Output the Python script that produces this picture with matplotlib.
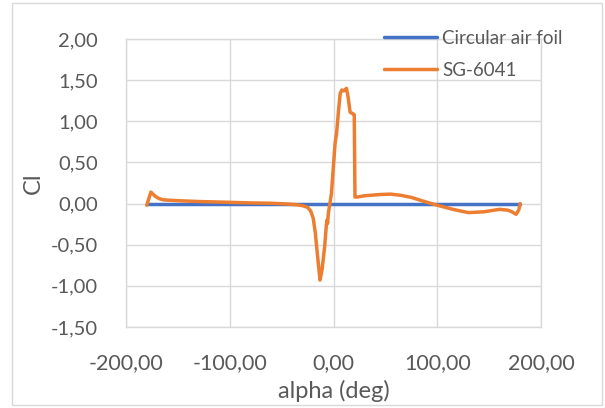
import matplotlib
matplotlib.use("Agg")
import matplotlib.pyplot as plt
from matplotlib.patches import Rectangle
from matplotlib.ticker import FuncFormatter, MultipleLocator

plt.rcParams["font.family"] = ["Lato", "DejaVu Sans"]

# data
circ_alpha = [-180, 180]
circ_cl = [0.0, 0.0]

sg_alpha = [-180, -176, -172, -168, -164, -150, -130, -100, -80, -60, -45, -35,
            -30, -25, -22, -19.5, -17.5, -15.5, -13, -11, -8.5, -7, -6.3, -5.7,
            -5, -2, 1.5, 3, 5, 6.5, 8, 10, 12.5, 14, 16, 19, 20, 20.7, 23, 30,
            45, 55, 65, 75, 85, 100, 115, 130, 145, 160, 168, 172, 176, 178.5, 180]
sg_cl = [-0.02, 0.14, 0.09, 0.06, 0.045, 0.035, 0.025, 0.015, 0.008, 0.004, -0.005, -0.015,
         -0.025, -0.045, -0.09, -0.18, -0.36, -0.62, -0.93, -0.80, -0.52, -0.28, -0.20, -0.24,
         -0.12, 0.12, 0.73, 0.86, 1.15, 1.34, 1.38, 1.37, 1.40, 1.30, 1.11, 1.09, 1.08, 0.08, 0.08, 0.095,
         0.11, 0.115, 0.10, 0.075, 0.035, -0.02, -0.07, -0.11, -0.10, -0.07, -0.08, -0.10, -0.13, -0.08, 0.0]

W, H = 605, 408
fig = plt.figure(figsize=(W / 100, H / 100), dpi=100)

# chart area border
fig.add_artist(Rectangle((12 / W, 3 / H), 590 / W, 402 / H, transform=fig.transFigure,
                         fill=False, edgecolor="#D9D9D9", linewidth=1))

ax = fig.add_axes([126 / W, (H - 327) / H, 415 / W, 288 / H])

grid_c = "#D9D9D9"
text_c = "#595959"

ax.plot(circ_alpha, circ_cl, color="#4472C4", linewidth=2.5, label="Circular air foil",
        solid_capstyle="round", zorder=3)
ax.plot(sg_alpha, sg_cl, color="#ED7D31", linewidth=2.5, label="SG-6041",
        solid_capstyle="round", solid_joinstyle="round", zorder=4)

ax.set_xlim(-200, 200)
ax.set_ylim(-1.5, 2.0)
ax.xaxis.set_major_locator(MultipleLocator(100))
ax.yaxis.set_major_locator(MultipleLocator(0.5))
fmt = FuncFormatter(lambda v, p: f"{v:.2f}".replace(".", ","))
ax.xaxis.set_major_formatter(fmt)
ax.yaxis.set_major_formatter(fmt)

ax.grid(True, color=grid_c, linewidth=1)
ax.set_axisbelow(True)
for s in ax.spines.values():
    s.set_color(grid_c)
    s.set_linewidth(1)
ax.tick_params(length=0, colors=text_c)
ax.tick_params(axis="y", pad=20, labelsize=14.5)
ax.tick_params(axis="x", pad=19, labelsize=15.5)

ax.set_xlabel("alpha (deg)", fontsize=17, color=text_c, labelpad=5)
ax.set_ylabel("Cl", fontsize=17, color=text_c, labelpad=5)

leg = ax.legend(loc="upper left", bbox_to_anchor=(384 / W, 1 - 30 / H),
                bbox_transform=fig.transFigure, frameon=False, fontsize=13.5,
                handlelength=2.8, handletextpad=0.3, labelspacing=0.8,
                borderpad=0, borderaxespad=0)
for t in leg.get_texts():
    t.set_color(text_c)

fig.savefig("out.png", dpi=100)
